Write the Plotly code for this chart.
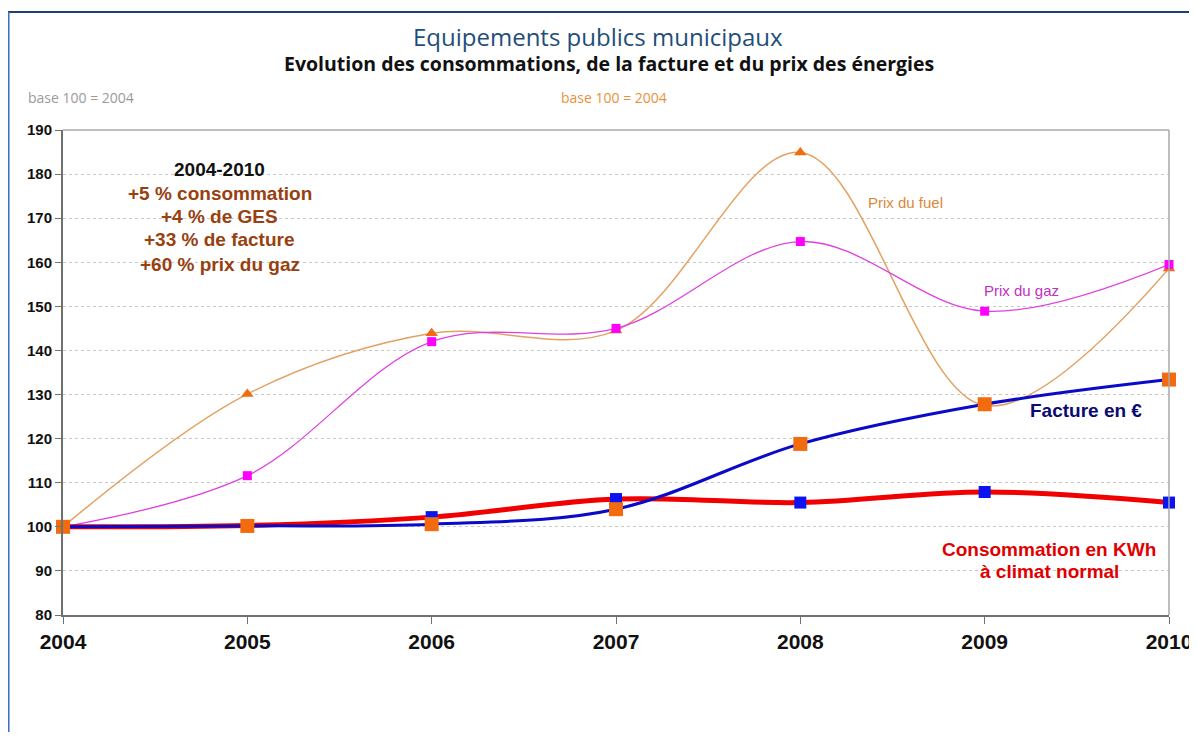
import plotly.graph_objects as go

years = [2004, 2005, 2006, 2007, 2008, 2009, 2010]
prix_fuel = [100, 130.1, 143.9, 144.5, 184.9, 127.5, 158.6]
prix_gaz = [100, 111.6, 142.0, 145.0, 164.7, 148.9, 159.5]
facture = [100, 100.2, 100.6, 104.0, 118.8, 127.8, 133.4]
consommation = [100, 100.3, 102.2, 106.3, 105.5, 107.9, 105.5]
y_ticks = [80, 90, 100, 110, 120, 130, 140, 150, 160, 170, 180, 190]

fig = go.Figure()
fig.add_trace(go.Scatter(x=years, y=prix_fuel, mode="lines+markers", name="Prix du fuel",
                         line=dict(color="#E3A263", width=1.5, shape="spline", smoothing=1),
                         marker=dict(symbol="triangle-up", size=11, color="#F26B0F"), cliponaxis=False))
fig.add_trace(go.Scatter(x=years, y=prix_gaz, mode="lines+markers", name="Prix du gaz",
                         line=dict(color="#E040E0", width=1.3, shape="spline", smoothing=1),
                         marker=dict(symbol="square", size=9, color="#FF00FF"), cliponaxis=False))
fig.add_trace(go.Scatter(x=years, y=consommation, mode="lines+markers", name="Consommation",
                         line=dict(color="#F00000", width=5, shape="spline", smoothing=1),
                         marker=dict(symbol="square", size=12, color="#0A14F0"), cliponaxis=False))
fig.add_trace(go.Scatter(x=years, y=facture, mode="lines+markers", name="Facture",
                         line=dict(color="#0A0AC8", width=3, shape="spline", smoothing=1),
                         marker=dict(symbol="square", size=14, color="#F26B0F"), cliponaxis=False))

anns = []
def ann(x, y, text, size, color, bold=False, xref="x", yref="y", family="Arial", xanchor="center"):
    t = f"<b>{text}</b>" if bold else text
    anns.append(dict(x=x, y=y, xref=xref, yref=yref, text=t, showarrow=False,
                     font=dict(size=size, color=color, family=family),
                     xanchor=xanchor, yanchor="middle"))

# titles (paper coords)
ann(0.484, 1.192, "Equipements publics municipaux", 24, "#1F4E79", xref="paper", yref="paper", family="Open Sans")
ann(0.494, 1.138, "Evolution des consommations, de la facture et du prix des énergies", 19.5, "#111111", bold=True, xref="paper", yref="paper", family="Open Sans")
ann(0.0163, 1.068, "base 100 = 2004", 14, "#9A9A9A", xref="paper", yref="paper", family="Open Sans")
ann(0.498, 1.068, "base 100 = 2004", 14, "#E8913A", xref="paper", yref="paper", family="Open Sans")

ann(2004.85, 181, "2004-2010", 19, "#111111", bold=True)
ann(2004.85, 175.5, "+5 % consommation", 19, "#99400F", bold=True)
ann(2004.85, 170.3, "+4 % de GES", 19, "#99400F", bold=True)
ann(2004.85, 165.1, "+33 % de facture", 19, "#99400F", bold=True)
ann(2004.85, 159.6, "+60 % prix du gaz", 19, "#99400F", bold=True)

ann(2008.57, 173.5, "Prix du fuel", 15, "#D9893A")
ann(2009.2, 153.5, "Prix du gaz", 15, "#C030C0")
ann(2009.55, 126.3, "Facture en €", 19, "#0A0A70", bold=True)
ann(2009.35, 94.9, "Consommation en KWh", 19, "#E00000", bold=True)
ann(2009.35, 89.8, "à climat normal", 19, "#E00000", bold=True)

fig.update_layout(
    width=1189, height=724,
    margin=dict(l=55, r=28, t=122, b=117, autoexpand=False),
    paper_bgcolor="white", plot_bgcolor="white",
    showlegend=False,
    annotations=anns,
    xaxis=dict(range=[2004, 2010], tickvals=years, ticktext=[f"<b>{y}</b>" for y in years],
               showgrid=False, zeroline=False, showline=True, linecolor="#707070", linewidth=2,
               ticks="outside", ticklen=7, tickcolor="#707070", automargin=False,
               tickfont=dict(family="Arial", size=21, color="#111111")),
    yaxis=dict(range=[80, 190], tickvals=y_ticks, ticktext=[f"<b>{v}</b>" for v in y_ticks],
               showgrid=True, gridcolor="#C8C8C8", griddash="dot", gridwidth=1,
               zeroline=False, showline=True, linecolor="#707070", linewidth=2,
               ticks="outside", ticklen=6, tickcolor="#707070", automargin=False,
               tickfont=dict(family="Arial", size=15, color="#111111")),
    shapes=[
        dict(type="line", xref="paper", yref="paper", x0=0, x1=1, y0=1, y1=1, line=dict(color="#A8A8A8", width=1.5)),
        dict(type="line", xref="paper", yref="paper", x0=1, x1=1, y0=0, y1=1, line=dict(color="#A8A8A8", width=1.5)),
        dict(type="line", xref="paper", yref="paper", x0=-0.0497, x1=1.03, y0=1.2433, y1=1.2433, line=dict(color="#1F3F7A", width=2)),
        dict(type="line", xref="paper", yref="paper", x0=-0.0497, x1=-0.0497, y0=-0.27, y1=1.2433, line=dict(color="#3A6FC8", width=3)),
    ],
)

fig.write_html("out.html")
